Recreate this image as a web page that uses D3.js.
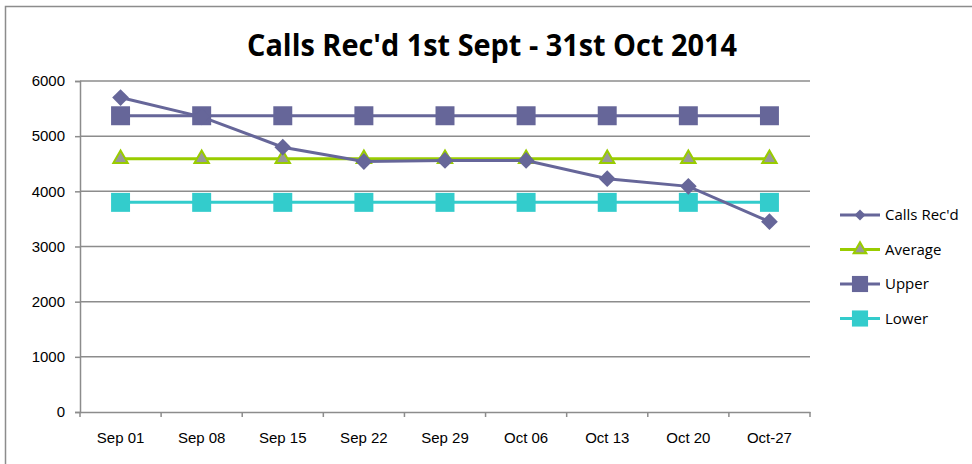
<!DOCTYPE html>
<html>
<head>
<meta charset="utf-8">
<script src="https://cdn.jsdelivr.net/npm/d3@7"></script>
<style>
  body { margin: 0; background: #fff; }
  svg { display: block; font-family: "Liberation Sans Narrow", "Open Sans", sans-serif; }
</style>
</head>
<body>
<svg id="chart" width="972" height="464"></svg>
<script>
// values
const weeks = ["Sep 01", "Sep 08", "Sep 15", "Sep 22", "Sep 29", "Oct 06", "Oct 13", "Oct 20", "Oct-27"];
const callsRecd = [5700, 5350, 4800, 4540, 4560, 4560, 4230, 4090, 3450];
const average = [4590, 4590, 4590, 4590, 4590, 4590, 4590, 4590, 4590];
const upper = [5370, 5370, 5370, 5370, 5370, 5370, 5370, 5370, 5370];
const lower = [3800, 3800, 3800, 3800, 3800, 3800, 3800, 3800, 3800];
const yTicks = [0, 1000, 2000, 3000, 4000, 5000, 6000];

const series = [
  {name: "Calls Rec'd", values: callsRecd, stroke: "#666699", shape: "diamond", fill: "#666699"},
  {name: "Average", values: average, stroke: "#99cc00", shape: "triangle", fill: "#999999"},
  {name: "Upper", values: upper, stroke: "#666699", shape: "square", fill: "#666699"},
  {name: "Lower", values: lower, stroke: "#33cccc", shape: "square", fill: "#33cccc"}
];

const svg = d3.select("#chart");
const margin = {top: 81, left: 80, right: 162, bottom: 52};
const width = 972 - margin.left - margin.right,
    height = 464 - margin.top - margin.bottom;

// outer chart border (cropped at right / bottom)
svg.append("path")
    .attr("d", "M5.5,470 V6.5 H980")
    .attr("fill", "none")
    .attr("stroke", "#8c8c8c")
    .attr("stroke-width", 1.5);

svg.append("text")
    .attr("x", 492)
    .attr("y", 56)
    .attr("text-anchor", "middle")
    .attr("font-size", 31)
    .attr("font-weight", "bold")
    .attr("textLength", 490)
    .attr("lengthAdjust", "spacingAndGlyphs")
    .text("Calls Rec'd 1st Sept - 31st Oct 2014");

const x = d3.scaleBand().domain(weeks).range([0, width]);
const y = d3.scaleLinear().domain([0, 6000]).range([height, 0]);

const g = svg.append("g")
    .attr("transform", "translate(" + margin.left + "," + margin.top + ")");

// gridlines
g.selectAll(".grid")
    .data(yTicks.slice(1))
    .enter().append("line")
    .attr("x1", 0).attr("x2", width)
    .attr("y1", d => y(d)).attr("y2", d => y(d))
    .attr("stroke", "#8c8c8c")
    .attr("stroke-width", 1.5);

const yAxis = g.append("g")
    .call(d3.axisLeft(y).tickValues(yTicks).tickFormat(d3.format("d")).tickSize(5).tickPadding(10));
const xAxis = g.append("g")
    .attr("transform", "translate(0," + height + ")")
    .call(d3.axisBottom(x).tickSize(0).tickPadding(20));

// category boundary ticks
const bounds = weeks.map(w => x(w)).concat([width]);
g.selectAll(".xtick")
    .data(bounds)
    .enter().append("line")
    .attr("x1", d => d).attr("x2", d => d)
    .attr("y1", height).attr("y2", height + 5)
    .attr("stroke", "#8c8c8c")
    .attr("stroke-width", 1.5);

[yAxis, xAxis].forEach(function (a) {
    a.selectAll("path, line").attr("stroke", "#8c8c8c").attr("stroke-width", 1.5);
    a.selectAll("text").attr("font-size", 15).attr("fill", "#000")
        .attr("font-family", "Liberation Sans Narrow, sans-serif");
});

function symbolFor(shape) {
    if (shape === "diamond") return d3.symbol().type(d3.symbolSquare).size(140)();
    if (shape === "triangle") return d3.symbol().type(d3.symbolTriangle).size(90)();
    return d3.symbol().type(d3.symbolSquare).size(360)();
}

const line = d3.line()
    .x((d, i) => x(weeks[i]) + x.bandwidth() / 2)
    .y(d => y(d));

// draw in order so the calls line sits on top of the band lines
const drawOrder = [series[3], series[1], series[2], series[0]];
drawOrder.forEach(function (s) {
    g.append("path")
        .datum(s.values)
        .attr("fill", "none")
        .attr("stroke", s.stroke)
        .attr("stroke-width", 3)
        .attr("d", line);
    g.selectAll(null)
        .data(s.values)
        .enter().append("path")
        .attr("d", symbolFor(s.shape))
        .attr("transform", (d, i) => "translate(" + (x(weeks[i]) + x.bandwidth() / 2) + "," + y(d) + ")" +
            (s.shape === "diamond" ? " rotate(45)" : ""))
        .attr("fill", s.fill)
        .attr("stroke", s.shape === "triangle" ? s.stroke : "none")
        .attr("stroke-width", 2);
});

// legend
const legend = svg.append("g").attr("transform", "translate(840,215)");
series.forEach(function (s, i) {
    const row = legend.append("g").attr("transform", "translate(0," + (i * 34.5) + ")");
    row.append("line")
        .attr("x1", 0).attr("x2", 40)
        .attr("stroke", s.stroke).attr("stroke-width", 3);
    const size = s.shape === "square" ? 260 : (s.shape === "triangle" ? 70 : 60);
    const type = s.shape === "triangle" ? d3.symbolTriangle : d3.symbolSquare;
    row.append("path")
        .attr("d", d3.symbol().type(type).size(size)())
        .attr("transform", "translate(20,0)" + (s.shape === "diamond" ? " rotate(45)" : ""))
        .attr("fill", s.fill)
        .attr("stroke", s.shape === "triangle" ? s.stroke : "none")
        .attr("stroke-width", 2);
    row.append("text")
        .attr("x", 45)
        .attr("y", 5)
        .attr("font-size", 15)
        .text(s.name);
});
</script>
</body>
</html>
